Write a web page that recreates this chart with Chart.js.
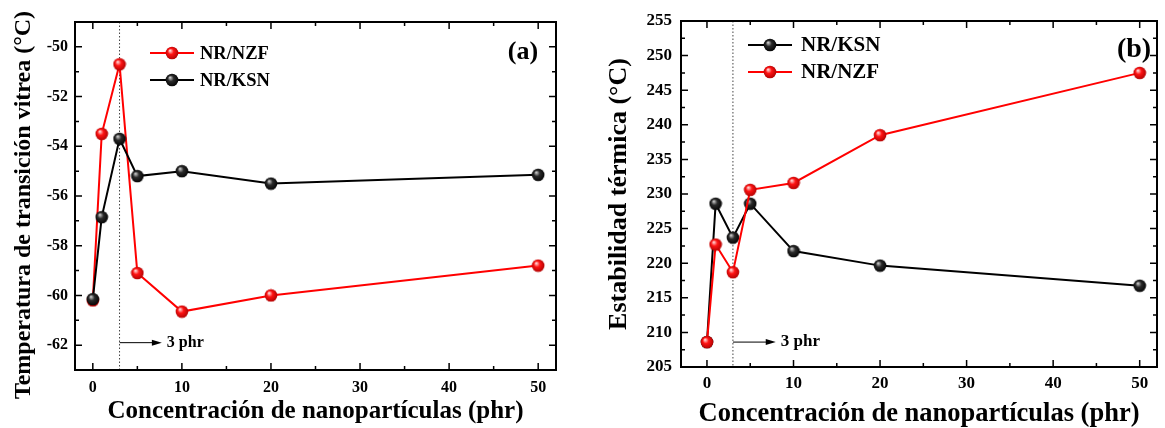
<!DOCTYPE html>
<html>
<head>
<meta charset="utf-8">
<script src="https://cdn.jsdelivr.net/npm/chart.js@4.4.1/dist/chart.umd.min.js"></script>
<style>
  body { margin: 0; background: #fff; }
  .panel { position: absolute; top: 0; height: 428px; }
  #panelA { left: 0; width: 575px; }
  #panelB { left: 575px; width: 590px; }
</style>
</head>
<body>
<div class="panel" id="panelA"><canvas id="chartA"></canvas></div>
<div class="panel" id="panelB"><canvas id="chartB"></canvas></div>
<script>
// nanoparticle loading (phr)
const phr = [0, 1, 3, 5, 10, 20, 50];

// (a) glass transition temperature, °C
const tgNZF = [-60.2, -53.5, -50.7, -59.1, -60.65, -60.0, -58.8];
const tgKSN = [-60.15, -56.85, -53.7, -55.2, -55.0, -55.5, -55.15];

// (b) thermal stability, °C
const tdKSN = [208.6, 228.6, 223.7, 228.6, 221.75, 219.65, 216.75];
const tdNZF = [208.6, 222.7, 218.7, 230.6, 231.6, 238.5, 247.5];

const xTicks = [0, 10, 20, 30, 40, 50];
const yTicksA = [-62, -60, -58, -56, -54, -52, -50];
const yTicksB = [205, 210, 215, 220, 225, 230, 235, 240, 245, 250, 255];

const FONT = "'Liberation Serif', 'Times New Roman', serif";

// shaded ball used as point marker
function sphere(light, mid, dark) {
  const c = document.createElement('canvas');
  c.width = c.height = 14;
  const g = c.getContext('2d');
  const grad = g.createRadialGradient(5, 4.5, 0.3, 7, 7, 7);
  grad.addColorStop(0, light);
  grad.addColorStop(0.4, mid);
  grad.addColorStop(1, dark);
  g.fillStyle = grad;
  g.beginPath();
  g.arc(7, 7, 6.3, 0, Math.PI * 2);
  g.fill();
  return c;
}
const redBall = sphere('#ffe0e0', '#ff1414', '#a80000');
const blackBall = sphere('#d0d0d0', '#2a2a2a', '#000000');

const points = (xs, ys) => xs.map((x, i) => ({ x: x, y: ys[i] }));

const series = (label, ys, color, ball) => ({
  label: label,
  data: points(phr, ys),
  showLine: true,
  borderColor: color,
  borderWidth: 2,
  pointStyle: ball,
  pointRadius: 6,
  fill: false
});

// frame, inward ticks, marker line, arrow note, panel letter and legend
const decor = {
  id: 'decor',
  beforeDatasetsDraw(chart, args, o) {
    const { ctx, chartArea: a, scales: { x } } = chart;
    const px = x.getPixelForValue(o.mark);
    ctx.save();
    ctx.strokeStyle = '#444';
    ctx.lineWidth = 1;
    ctx.setLineDash([1.5, 2]);
    ctx.beginPath();
    ctx.moveTo(px, a.top);
    ctx.lineTo(px, a.bottom);
    ctx.stroke();
    ctx.restore();
  },
  afterDraw(chart, args, o) {
    const { ctx, chartArea: a, scales: { x, y } } = chart;
    ctx.save();
    ctx.strokeStyle = '#000';
    ctx.lineWidth = 2;
    ctx.strokeRect(a.left, a.top, a.right - a.left, a.bottom - a.top);

    ctx.lineWidth = 1.5;
    ctx.beginPath();
    const tickX = (v, len) => {
      const p = x.getPixelForValue(v);
      if (p < a.left + 1 || p > a.right - 1) return;
      ctx.moveTo(p, a.bottom); ctx.lineTo(p, a.bottom - len);
      ctx.moveTo(p, a.top); ctx.lineTo(p, a.top + len);
    };
    const tickY = (v, len) => {
      const p = y.getPixelForValue(v);
      if (p < a.top + 1 || p > a.bottom - 1) return;
      ctx.moveTo(a.left, p); ctx.lineTo(a.left + len, p);
      ctx.moveTo(a.right, p); ctx.lineTo(a.right - len, p);
    };
    for (let v = Math.ceil(x.min / o.minorX) * o.minorX; v <= x.max; v += o.minorX) {
      tickX(v, x.ticks.some(t => t.value === v) ? 7 : 4);
    }
    for (let v = Math.ceil(y.min / o.minorY) * o.minorY; v <= y.max + 1e-9; v += o.minorY) {
      const vv = Math.round(v * 100) / 100;
      tickY(vv, y.ticks.some(t => t.value === vv) ? 7 : 4);
    }
    ctx.stroke();

    // arrow "3 phr"
    const ax0 = x.getPixelForValue(o.mark);
    const ax1 = x.getPixelForValue(o.arrowTo);
    const ay = y.getPixelForValue(o.arrowY);
    ctx.lineWidth = 1;
    ctx.beginPath();
    ctx.moveTo(ax0, ay);
    ctx.lineTo(ax1 - 8, ay);
    ctx.stroke();
    ctx.fillStyle = '#000';
    ctx.beginPath();
    ctx.moveTo(ax1, ay);
    ctx.lineTo(ax1 - 10, ay - 3);
    ctx.lineTo(ax1 - 10, ay + 3);
    ctx.closePath();
    ctx.fill();
    ctx.font = 'bold ' + o.noteSize + 'px ' + FONT;
    ctx.textBaseline = 'middle';
    ctx.fillText(o.note, ax1 + 5, ay);

    // panel letter
    ctx.font = 'bold ' + o.letterSize + 'px ' + FONT;
    ctx.textAlign = 'center';
    ctx.fillText(o.letter, a.right - o.letterDx, a.top + o.letterDy);

    // legend
    ctx.textAlign = 'left';
    ctx.font = 'bold ' + o.legendSize + 'px ' + FONT;
    o.legend.forEach((item, i) => {
      const lx = a.left + o.legendDx;
      const ly = a.top + o.legendDy + i * 27;
      ctx.strokeStyle = item.color;
      ctx.lineWidth = 2;
      ctx.beginPath();
      ctx.moveTo(lx, ly);
      ctx.lineTo(lx + 44, ly);
      ctx.stroke();
      ctx.drawImage(item.ball, lx + 22 - 7, ly - 7);
      ctx.fillStyle = '#000';
      ctx.fillText(item.label, lx + o.legendGap, ly + 1);
    });
    ctx.restore();
  }
};

function makeChart(id, cfg) {
  return new Chart(document.getElementById(id), {
    type: 'scatter',
    data: { datasets: cfg.datasets },
    options: {
      responsive: true,
      maintainAspectRatio: false,
      animation: false,
      events: [],
      layout: { padding: cfg.padding },
      plugins: {
        legend: { display: false },
        tooltip: { enabled: false },
        decor: cfg.decor
      },
      scales: {
        x: {
          type: 'linear',
          min: cfg.xMin,
          max: 52,
          afterBuildTicks: s => { s.ticks = xTicks.map(v => ({ value: v })); },
          afterFit: s => { s.height = cfg.xHeight; },
          grid: { display: false, drawTicks: false },
          border: { display: false },
          ticks: {
            color: '#000',
            padding: cfg.xPad,
            maxRotation: 0,
            font: { family: FONT, size: cfg.tickSize, weight: 'bold' }
          },
          title: {
            display: true,
            text: 'Concentración de nanopartículas (phr)',
            color: '#000',
            padding: 0,
            font: { family: FONT, size: cfg.xTitleSize, weight: 'bold', lineHeight: 1.05 }
          }
        },
        y: {
          type: 'linear',
          min: cfg.yMin,
          max: cfg.yMax,
          afterBuildTicks: s => { s.ticks = cfg.yTicks.map(v => ({ value: v })); },
          afterFit: s => { s.width = cfg.yWidth; },
          grid: { display: false, drawTicks: false },
          border: { display: false },
          ticks: {
            color: '#000',
            padding: cfg.yPad,
            font: { family: FONT, size: cfg.tickSize, weight: 'bold' }
          },
          title: {
            display: true,
            text: cfg.yTitle,
            color: '#000',
            padding: 0,
            font: { family: FONT, size: cfg.yTitleSize, weight: 'bold', lineHeight: 1.2 }
          }
        }
      }
    },
    plugins: [decor]
  });
}

makeChart('chartA', {
  datasets: [
    series('NR/KSN', tgKSN, '#000000', blackBall),
    series('NR/NZF', tgNZF, '#ff0000', redBall)
  ],
  padding: { left: 9, right: 19, top: 22, bottom: 3 },
  xMin: -2, xHeight: 55, xPad: 8, xTitleSize: 25,
  yMin: -63, yMax: -49, yTicks: yTicksA, yWidth: 66, yPad: 7, yTitleSize: 24,
  yTitle: 'Temperatura de transición vitrea (°C)\u00a0\u00a0\u00a0',
  tickSize: 16,
  decor: {
    minorX: 5, minorY: 1,
    mark: 3, arrowTo: 7.75, arrowY: -61.9, note: '3 phr', noteSize: 16,
    letter: '(a)', letterSize: 26, letterDx: 33, letterDy: 30,
    legendDx: 75, legendDy: 31, legendSize: 18.5, legendGap: 50,
    legend: [
      { label: 'NR/NZF', color: '#ff0000', ball: redBall },
      { label: 'NR/KSN', color: '#000000', ball: blackBall }
    ]
  }
});

makeChart('chartB', {
  datasets: [
    series('NR/NZF', tdNZF, '#ff0000', redBall),
    series('NR/KSN', tdKSN, '#000000', blackBall)
  ],
  padding: { left: 29, right: 2, top: 21, bottom: 0 },
  xMin: -3, xHeight: 61, xPad: 6.5, xTitleSize: 26.5,
  yMin: 205, yMax: 255, yTicks: yTicksB, yWidth: 77, yPad: 9, yTitleSize: 26,
  yTitle: 'Estabilidad térmica (°C)',
  tickSize: 17,
  decor: {
    minorX: 5, minorY: 2.5,
    mark: 3, arrowTo: 7.95, arrowY: 208.6, note: '3 phr', noteSize: 17,
    letter: '(b)', letterSize: 28, letterDx: 23, letterDy: 29,
    legendDx: 67, legendDy: 24, legendSize: 21, legendGap: 53,
    legend: [
      { label: 'NR/KSN', color: '#000000', ball: blackBall },
      { label: 'NR/NZF', color: '#ff0000', ball: redBall }
    ]
  }
});
</script>
</body>
</html>
